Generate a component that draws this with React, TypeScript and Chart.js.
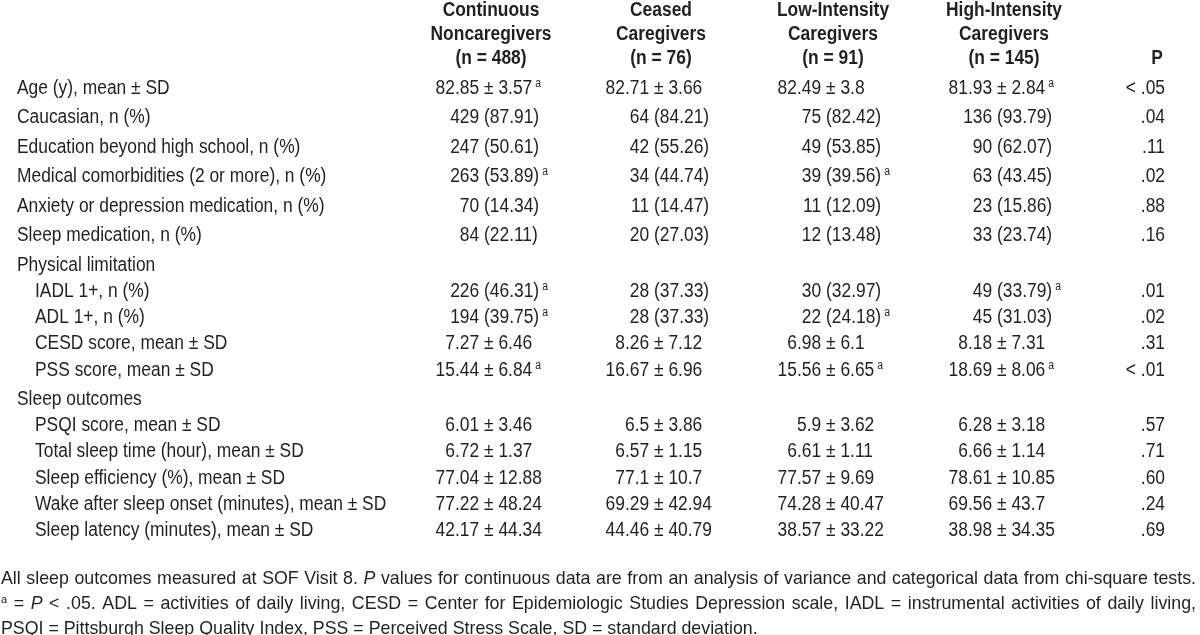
import React, { useEffect, useRef } from "react";
import { Chart, registerables } from "chart.js";

Chart.register(...registerables);

// ---------------- DATA ----------------
const columnHeaders: string[][] = [
  ["Continuous", "Noncaregivers", "(n = 488)"],
  ["Ceased", "Caregivers", "(n = 76)"],
  ["Low-Intensity", "Caregivers", "(n = 91)"],
  ["High-Intensity", "Caregivers", "(n = 145)"],
  ["P"],
];

const rowLabels: string[] = [
  "Age (y), mean ± SD",
  "Caucasian, n (%)",
  "Education beyond high school, n (%)",
  "Medical comorbidities (2 or more), n (%)",
  "Anxiety or depression medication, n (%)",
  "Sleep medication, n (%)",
  "Physical limitation",
  "IADL 1+, n (%)",
  "ADL 1+, n (%)",
  "CESD score, mean ± SD",
  "PSS score, mean ± SD",
  "Sleep outcomes",
  "PSQI score, mean ± SD",
  "Total sleep time (hour), mean ± SD",
  "Sleep efficiency (%), mean ± SD",
  "Wake after sleep onset (minutes), mean ± SD",
  "Sleep latency (minutes), mean ± SD",
];

// 0 = section / top-level row, 1 = sub-row (indented)
const rowLevel: number[] = [0, 0, 0, 0, 0, 0, 0, 1, 1, 1, 1, 0, 1, 1, 1, 1, 1];

const continuousNoncaregivers: string[] = [
  "82.85 ± 3.57", "429 (87.91)", "247 (50.61)", "263 (53.89)", "70 (14.34)", "84 (22.11)", "",
  "226 (46.31)", "194 (39.75)", "7.27 ± 6.46", "15.44 ± 6.84", "",
  "6.01 ± 3.46", "6.72 ± 1.37", "77.04 ± 12.88", "77.22 ± 48.24", "42.17 ± 44.34",
];
const ceasedCaregivers: string[] = [
  "82.71 ± 3.66", "64 (84.21)", "42 (55.26)", "34 (44.74)", "11 (14.47)", "20 (27.03)", "",
  "28 (37.33)", "28 (37.33)", "8.26 ± 7.12", "16.67 ± 6.96", "",
  "6.5 ± 3.86", "6.57 ± 1.15", "77.1 ± 10.7", "69.29 ± 42.94", "44.46 ± 40.79",
];
const lowIntensityCaregivers: string[] = [
  "82.49 ± 3.8", "75 (82.42)", "49 (53.85)", "39 (39.56)", "11 (12.09)", "12 (13.48)", "",
  "30 (32.97)", "22 (24.18)", "6.98 ± 6.1", "15.56 ± 6.65", "",
  "5.9 ± 3.62", "6.61 ± 1.11", "77.57 ± 9.69", "74.28 ± 40.47", "38.57 ± 33.22",
];
const highIntensityCaregivers: string[] = [
  "81.93 ± 2.84", "136 (93.79)", "90 (62.07)", "63 (43.45)", "23 (15.86)", "33 (23.74)", "",
  "49 (33.79)", "45 (31.03)", "8.18 ± 7.31", "18.69 ± 8.06", "",
  "6.28 ± 3.18", "6.66 ± 1.14", "78.61 ± 10.85", "69.56 ± 43.7", "38.98 ± 34.35",
];
const pValues: string[] = [
  "< .05", ".04", ".11", ".02", ".88", ".16", "",
  ".01", ".02", ".31", "< .01", "",
  ".57", ".71", ".60", ".24", ".69",
];

// superscript "a" (P < .05) markers
const sigNoncaregivers: number[] = [1, 0, 0, 1, 0, 0, 0, 1, 1, 0, 1, 0, 0, 0, 0, 0, 0];
const sigCeased: number[] = [0, 0, 0, 0, 0, 0, 0, 0, 0, 0, 0, 0, 0, 0, 0, 0, 0];
const sigLowIntensity: number[] = [0, 0, 0, 1, 0, 0, 0, 0, 1, 0, 1, 0, 0, 0, 0, 0, 0];
const sigHighIntensity: number[] = [1, 0, 0, 0, 0, 0, 0, 1, 0, 0, 1, 0, 0, 0, 0, 0, 0];

type Seg = { t: string; italic?: boolean; sup?: boolean };
const footnoteLines: Seg[][] = [
  [
    { t: "All sleep outcomes measured at SOF Visit 8." },
    { t: "P", italic: true },
    { t: "values for continuous data are from an analysis of variance and categorical data from chi-square tests." },
  ],
  [
    { t: "a", sup: true },
    { t: "=" },
    { t: "P", italic: true },
    { t: "< .05. ADL = activities of daily living, CESD = Center for Epidemiologic Studies Depression scale, IADL = instrumental activities of daily living," },
  ],
  [{ t: "PSQI = Pittsburgh Sleep Quality Index, PSS = Perceived Stress Scale, SD = standard deviation." }],
];
const footnoteJustify: boolean[] = [true, true, false];

// ---------------- LAYOUT / STYLE ----------------
const FAMILY = '"Liberation Sans", Arial, Helvetica, sans-serif';
const TEXT_COLOR = "#231f20";
const TABLE_SIZE = 20;
const TABLE_SX = 0.87;
const SUP_SIZE = 12;
const FOOT_SIZE = 17.8;
const FOOT_SUP_SIZE = 11;
const LABEL_X = [17, 35];
const COL_ANCHOR = [484, 654, 826, 997];
const HEADER_OFFSET = 7;
const P_RIGHT = 1165;
const P_HEADER_X = 1157;
const FIRST_ROW_Y = 86.5;
const LEVEL_PITCH = [29.5, 26.2];
const HEADER_LINE_Y = [9, 32.5, 57];
const FOOT_Y0 = 578;
const FOOT_PITCH = 25;
const FOOT_X = 1;
const FOOT_RIGHT = 1196;

const rowY: number[] = [];
rowLabels.forEach((_, i) => {
  rowY.push(i === 0 ? FIRST_ROW_Y : rowY[i - 1] + LEVEL_PITCH[rowLevel[i]]);
});

const valueColumns = [continuousNoncaregivers, ceasedCaregivers, lowIntensityCaregivers, highIntensityCaregivers];
const sigColumns = [sigNoncaregivers, sigCeased, sigLowIntensity, sigHighIntensity];

function font(size: number, bold = false, italic = false) {
  return `${italic ? "italic " : ""}${bold ? "bold " : ""}${size}px ${FAMILY}`;
}

function textW(ctx: CanvasRenderingContext2D, t: string, f: string, sx: number) {
  ctx.font = f;
  return ctx.measureText(t).width * sx;
}

function drawScaled(ctx: CanvasRenderingContext2D, t: string, x: number, baseline: number, f: string, sx: number) {
  ctx.save();
  ctx.font = f;
  ctx.translate(x, baseline);
  ctx.scale(sx, 1);
  ctx.textAlign = "left";
  ctx.textBaseline = "alphabetic";
  ctx.fillText(t, 0, 0);
  ctx.restore();
}

const tablePlugin = {
  id: "tableText",
  afterDatasetsDraw(chart: any) {
    const ctx: CanvasRenderingContext2D = chart.ctx;
    const xs = chart.scales.x;
    const ys = chart.scales.y;
    const capOff = TABLE_SIZE * 0.36;
    ctx.save();
    ctx.fillStyle = TEXT_COLOR;

    // column headers (bottom aligned)
    const hf = font(TABLE_SIZE, true);
    columnHeaders.forEach((lines, c) => {
      const cx = xs.getPixelForValue(c < 4 ? COL_ANCHOR[c] + HEADER_OFFSET : P_HEADER_X);
      lines.forEach((line, k) => {
        const yv = HEADER_LINE_Y[HEADER_LINE_Y.length - lines.length + k];
        const w = textW(ctx, line, hf, TABLE_SX);
        drawScaled(ctx, line, cx - w / 2, ys.getPixelForValue(yv) + capOff, hf, TABLE_SX);
      });
    });

    // cells
    const tf = font(TABLE_SIZE);
    const sf = font(SUP_SIZE);
    chart.data.datasets.forEach((ds: any, di: number) => {
      const meta = chart.getDatasetMeta(di);
      meta.data.forEach((pt: any, i: number) => {
        const text: string = ds.cellText[i];
        if (!text) return;
        const base = pt.y + capOff;
        let x0 = pt.x;
        if (ds.kind === "value") {
          let idx = text.indexOf("±");
          if (idx < 0) idx = text.indexOf("(");
          x0 = pt.x - textW(ctx, text.slice(0, idx), tf, TABLE_SX);
        } else if (ds.kind === "p") {
          x0 = pt.x - textW(ctx, text, tf, TABLE_SX);
        }
        drawScaled(ctx, text, x0, base, tf, TABLE_SX);
        if (ds.sig && ds.sig[i]) {
          const end = x0 + textW(ctx, text, tf, TABLE_SX);
          drawScaled(ctx, "a", end + 3, base - 7, sf, TABLE_SX);
        }
      });
    });

    // footnotes
    footnoteLines.forEach((segs, li) => {
      const baseline = ys.getPixelForValue(FOOT_Y0 + li * FOOT_PITCH) + FOOT_SIZE * 0.36;
      const words: { t: string; f: string; sup?: boolean }[] = [];
      segs.forEach((s) => {
        s.t.split(" ").filter(Boolean).forEach((w) => {
          words.push({ t: w, f: s.sup ? font(FOOT_SUP_SIZE) : font(FOOT_SIZE, false, !!s.italic), sup: s.sup });
        });
      });
      const spaceW = textW(ctx, " ", font(FOOT_SIZE), 1);
      const widths = words.map((w) => textW(ctx, w.t, w.f, 1));
      const sumW = widths.reduce((a, b) => a + b, 0);
      const left = xs.getPixelForValue(FOOT_X);
      const avail = xs.getPixelForValue(FOOT_RIGHT) - left;
      let sx = 1;
      let gap = spaceW;
      const natural = sumW + spaceW * (words.length - 1);
      if (natural > avail) {
        sx = avail / natural;
      } else if (footnoteJustify[li]) {
        gap = (avail - sumW) / (words.length - 1);
      }
      let x = left;
      words.forEach((w, k) => {
        drawScaled(ctx, w.t, x, w.sup ? baseline - 6 : baseline, w.f, sx);
        x += widths[k] * sx + gap * (natural > avail ? sx : 1);
      });
    });
    ctx.restore();
  },
};

export default function App() {
  const ref = useRef<HTMLCanvasElement>(null);
  useEffect(() => {
    document.body.style.margin = "0";
    document.body.style.background = "#ffffff";
    const datasets: any[] = [
      {
        label: "Characteristic",
        kind: "label",
        cellText: rowLabels,
        data: rowLabels.map((_, i) => ({ x: LABEL_X[rowLevel[i]], y: rowY[i] })),
        pointRadius: 0,
        showLine: false,
      },
      ...valueColumns.map((vals, c) => ({
        label: columnHeaders[c].join(" "),
        kind: "value",
        cellText: vals,
        sig: sigColumns[c],
        data: vals.map((_, i) => ({ x: COL_ANCHOR[c], y: rowY[i] })),
        pointRadius: 0,
        showLine: false,
      })),
      {
        label: "P",
        kind: "p",
        cellText: pValues,
        data: pValues.map((_, i) => ({ x: P_RIGHT, y: rowY[i] })),
        pointRadius: 0,
        showLine: false,
      },
    ];
    const chart = new Chart(ref.current as HTMLCanvasElement, {
      type: "scatter",
      data: { datasets },
      options: {
        animation: false,
        responsive: false,
        devicePixelRatio: 1,
        events: [],
        layout: { padding: 0 },
        plugins: { legend: { display: false }, tooltip: { enabled: false } },
        scales: {
          x: { type: "linear", min: 0, max: 1200, display: false },
          y: { type: "linear", min: 0, max: 635, reverse: true, display: false },
        },
      } as any,
      plugins: [tablePlugin as any],
    });
    return () => chart.destroy();
  }, []);
  return (
    <div style={{ width: 1200, height: 635 }}>
      <canvas ref={ref} width={1200} height={635} style={{ display: "block" }} />
    </div>
  );
}
